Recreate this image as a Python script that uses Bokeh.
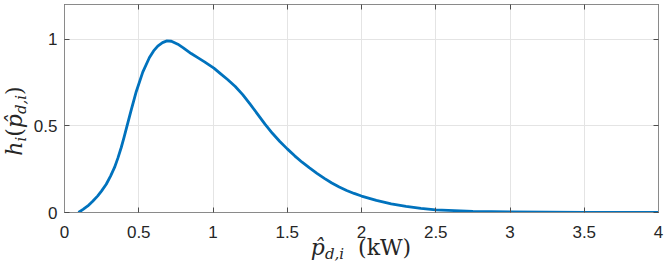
from bokeh.plotting import figure
from bokeh.models import Range1d, FixedTicker, LinearAxis, Grid, Div
from bokeh.layouts import column
from bokeh.embed import file_html
from bokeh.resources import INLINE

# ---- data ----
power_kw = [0.094, 0.125, 0.157, 0.190, 0.224, 0.250, 0.281, 0.310, 0.337, 0.360,
            0.382, 0.400, 0.415, 0.449, 0.483, 0.527, 0.572, 0.600, 0.628, 0.660,
            0.690, 0.720, 0.763, 0.800, 0.853, 0.900, 0.943, 1.006, 1.050, 1.100,
            1.150, 1.200, 1.250, 1.300, 1.350, 1.400, 1.450, 1.500, 1.550, 1.600,
            1.650, 1.700, 1.750, 1.800, 1.850, 1.900, 1.950, 2.000, 2.100, 2.200,
            2.300, 2.400, 2.500, 2.750, 3.000, 3.500, 4.000]
h_value = [0.000, 0.018, 0.038, 0.065, 0.096, 0.125, 0.163, 0.210, 0.260, 0.315,
           0.375, 0.430, 0.480, 0.590, 0.697, 0.810, 0.894, 0.932, 0.960, 0.980,
           0.990, 0.988, 0.971, 0.950, 0.917, 0.892, 0.869, 0.833, 0.801, 0.766,
           0.727, 0.680, 0.625, 0.568, 0.510, 0.457, 0.410, 0.367, 0.327, 0.290,
           0.257, 0.226, 0.197, 0.170, 0.147, 0.127, 0.110, 0.095, 0.070, 0.050,
           0.035, 0.024, 0.015, 0.007, 0.004, 0.001, 0.0005]

x_ticks = [0, 0.5, 1, 1.5, 2, 2.5, 3, 3.5, 4]
x_tick_labels = ["0", "0.5", "1", "1.5", "2", "2.5", "3", "3.5", "4"]
y_ticks = [0, 0.5, 1]
y_tick_labels = ["0", "0.5", "1"]

AX = "#262626"
TICKFONT = "Liberation Sans"
MATH = "'DejaVu Serif'"

p = figure(frame_width=594, frame_height=208,
           min_border_left=56, min_border_right=7,
           min_border_top=1, min_border_bottom=30,
           x_range=Range1d(0, 4), y_range=Range1d(0, 1.2),
           output_backend="svg", toolbar_location=None,
           x_axis_type=None, y_axis_type=None)
p.margin = 0
p.background_fill_color = "white"
p.border_fill_color = "white"
p.outline_line_color = "#8a8a8a"
p.outline_line_width = 1

def style_axis(ax, ticks, labels, show_labels):
    ax.ticker = FixedTicker(ticks=ticks)
    ax.major_label_overrides = {t: l for t, l in zip(ticks, labels)}
    ax.axis_line_color = "#8a8a8a"
    ax.axis_line_width = 1
    ax.major_tick_line_color = "#4d4d4d"
    ax.major_tick_line_width = 1
    ax.major_tick_in = 5
    ax.major_tick_out = 0
    ax.minor_tick_line_color = None
    ax.major_label_text_font = TICKFONT
    ax.major_label_text_color = AX
    if show_labels:
        ax.major_label_text_font_size = "17px"
    else:
        ax.major_label_text_font_size = "0px"
        ax.major_label_text_alpha = 0

xb = LinearAxis(); style_axis(xb, x_ticks, x_tick_labels, True); xb.major_label_standoff = 13
yl = LinearAxis(); style_axis(yl, y_ticks, y_tick_labels, True); yl.major_label_standoff = 7
xt = LinearAxis(); style_axis(xt, x_ticks, x_tick_labels, False)
yr = LinearAxis(); style_axis(yr, y_ticks, y_tick_labels, False)
p.add_layout(xb, "below")
p.add_layout(yl, "left")
p.add_layout(xt, "above")
p.add_layout(yr, "right")

p.add_layout(Grid(dimension=0, ticker=FixedTicker(ticks=x_ticks),
                  grid_line_color="#e4e4e4", grid_line_width=1))
p.add_layout(Grid(dimension=1, ticker=FixedTicker(ticks=y_ticks),
                  grid_line_color="#e4e4e4", grid_line_width=1))

p.line(power_kw, h_value, line_color="#0072BD", line_width=2.8, line_join="round")

# ---- axis labels (math-style) as HTML text placed around the frame ----
# the label div sits directly under the figure canvas (canvas height 239)
base = f"font-family:{MATH}; color:{AX}; white-space:nowrap; line-height:20px;"
sub = "font-size:15px; font-style:italic; line-height:0; vertical-align:-4px;"
x_label = (f'<div style="position:absolute; left:353px; top:-4px; '
           f'transform:translateX(-50%); font-size:22px; {base}">'
           f'<i>p&#770;</i><span style="{sub}">d,i</span>&nbsp;&nbsp;(kW)</div>')
y_label = (f'<div style="position:absolute; left:-3px; top:-17px; width:208px; '
           f'text-align:center; transform-origin:0 0; transform:rotate(-90deg); '
           f'font-size:22px; {base}">'
           f'<i>h</i><span style="{sub}">i</span>(<i>p&#770;</i>'
           f'<span style="{sub}">d,i</span>)</div>')

labels = Div(text=x_label + y_label, width=637, height=20, margin=0,
             styles={"overflow": "visible"})

layout = column(p, labels, margin=(3, 0, 0, 8), spacing=0)
open("out.html", "w").write(file_html(layout, INLINE))
